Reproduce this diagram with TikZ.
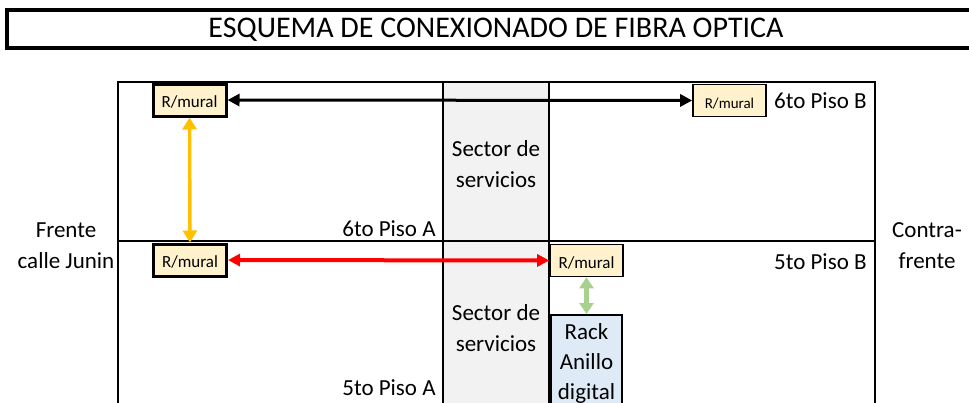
\documentclass[tikz,border=0pt]{standalone}
\usepackage{fontspec}
\setmainfont{Carlito}
\usetikzlibrary{arrows.meta, positioning}
\usepackage{xcolor}
\definecolor{murfill}{HTML}{FFF2CC}
\definecolor{rackfill}{HTML}{DEEBF7}
\definecolor{servfill}{HTML}{F2F2F2}
\definecolor{fibyellow}{HTML}{FFC000}
\definecolor{fibgreen}{HTML}{A9D18E}

\begin{document}
\begin{tikzpicture}[x=1pt, y=-1pt, thick]
        % Define styles
        \tikzstyle{wall} = [line width=2.8pt]
        \tikzstyle{mural} = [rectangle, draw=black, fill=murfill, line width=3pt, minimum width=73pt, minimum height=32pt, inner sep=0pt, text height=18pt, text depth=3pt, font=\fontsize{17}{17}\selectfont]
        \tikzstyle{muralthin} = [mural, line width=1.6pt]
        \tikzstyle{lbl} = [inner sep=0pt, font=\fontsize{23}{31}\selectfont, align=center]
        \tikzstyle{fibra} = [{Triangle[length=12pt, width=12pt]}-{Triangle[length=12pt, width=12pt]}]

        \useasboundingbox (0,0) rectangle (969,402);

        % Title
        \draw [line width=3.2pt] (7,10) rectangle (985,48);
        \node [inner sep=0pt, font=\fontsize{30}{30}\selectfont] (title) at (496,30) {ESQUEMA DE CONEXIONADO DE FIBRA OPTICA};

        % Building plan
        \fill [servfill] (443,82) rectangle (549,410);
        \draw [wall] (118,410) -- (118,82) -- (875,82) -- (875,410);
        \draw [wall] (118,241) -- (875,241);
        \draw [wall] (443,82) -- (443,410);
        \draw [wall] (549,82) -- (549,410);

        % Texts
        \node [lbl] (serv6) at (496,164) {Sector de\\servicios};
        \node [lbl] (serv5) at (496,328) {Sector de\\servicios};
        \node [lbl, anchor=east] (p6a) at (436,229) {6to Piso A};
        \node [lbl, anchor=east] (p5a) at (436,388) {5to Piso A};
        \node [lbl, anchor=east] (p6b) at (867,101) {6to Piso B};
        \node [lbl, anchor=east] (p5b) at (867,262) {5to Piso B};
        \node [lbl] (frente) at (66,246) {Frente\\calle Junin};
        \node [lbl] (contra) at (927,246) {Contra-\\frente};

        % Define nodes
        \node [mural] (m6a) at (189.5,100) {R/mural};
        \node [muralthin, font=\fontsize{15}{15}\selectfont] (m6b) at (729.5,100.5) {R/mural};
        \node [mural] (m5a) at (190,260) {R/mural};
        \node [muralthin] (m5b) at (586.5,260.5) {R/mural};
        \node [rectangle, draw=black, fill=rackfill, line width=2.2pt, minimum width=71pt, anchor=north, inner xsep=0pt, inner ysep=8pt, font=\fontsize{23}{30}\selectfont, align=center] (rack) at (586.5,314) {Rack\\Anillo\\digital\\\mbox{}};

        % Connect nodes with fibres
        \draw [fibra, line width=3pt] (m6a) -- (m6b);
        \draw [fibra, line width=4pt, red] (m5a) -- (m5b);
        \draw [line width=3.5pt, fibyellow, {Triangle[length=12pt, width=14pt]}-{Triangle[length=12pt, width=14pt]}] (m6a) -- (m5a);
        \draw [line width=5pt, fibgreen, {Triangle[length=11pt, width=14pt]}-{Triangle[length=11pt, width=14pt]}] (m5b) -- (rack);

    \end{tikzpicture}
\end{document}
